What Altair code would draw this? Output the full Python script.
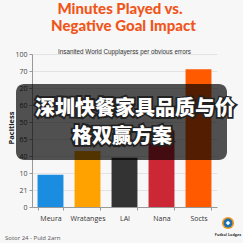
import altair as alt
import pandas as pd
import json

players = ["Meura", "Wratanges", "LAI", "Nana", "Socts"]
values = [19, 33, 29, 45, 81]
colors = ["#1a8de0", "#ffa200", "#333333", "#cc2734", "#ff5a00"]
tick_positions = [0, 10, 20, 30, 40, 50, 60, 70, 80, 90]
tick_labels = ["0", "21", "10", "40", "65", "50", "60", "20", "70", "100"]

title_lines = ["Minutes Played vs.", "Negative Goal Impact"]
subtitle = "Insanited World Cupplayerss per obvious errors"
y_title = "Pacitless"
footer = "Sotor 24 - Puld 2arn"
overlay_lines = ["深圳快餐家具品质与价", "格双赢方案"]
logo_text = "Futbol Lodges"

W, H = 185, 153
PL, PT = 32, 54

df = pd.DataFrame({"player": players, "value": values})
one = pd.DataFrame({"k": [0]})

label_expr = json.dumps(tick_labels) + "[round(datum.value/10)]"

bars = alt.Chart(df).mark_bar().encode(
    x=alt.X("player:N", sort=players, title=None,
            scale=alt.Scale(paddingInner=0.3, paddingOuter=0.15),
            axis=alt.Axis(labelAngle=0, labelFontSize=7, labelColor="#333",
                          labelFont="Open Sans", domainColor="#999", tickColor="#999",
                          tickBand="extent", tickSize=3, labelPadding=4)),
    y=alt.Y("value:Q", title=None,
            scale=alt.Scale(domain=[0, 90], nice=False),
            axis=alt.Axis(values=tick_positions, labelExpr=label_expr,
                          labelFontSize=7, labelColor="#444", labelFont="Open Sans",
                          gridColor="#e3e3e3", domainColor="#999", tickColor="#999",
                          tickSize=3, labelPadding=2)),
    color=alt.Color("player:N", scale=alt.Scale(domain=players, range=colors), legend=None),
)

def txt(text, x, y, size, color="#333", weight="normal", font="Open Sans", align="center", angle=0, **kw):
    return alt.Chart(one).mark_text(text=text, fontSize=size, color=color, fontWeight=weight,
                                    font=font, align=align, baseline="middle", angle=angle, **kw).encode(
        x=alt.value(x - PL), y=alt.value(y - PT))

layers = [bars]
layers.append(txt(title_lines[0], 120, 9, 15, color="#f0561c", weight=900, font="Lato"))
layers.append(txt(title_lines[1], 123.5, 25.5, 15, color="#f0561c", weight=900, font="Lato"))
layers.append(txt(subtitle, 124.5, 51.5, 6.3, color="#333", font="Liberation Sans"))
layers.append(txt(y_title, 12, 128, 7.5, color="#222", weight="bold", angle=270))
layers.append(txt(footer, 5, 238, 6, color="#555", align="left"))

# logo
for size, col in [(150, "#f39a1e"), (80, "#1a6fb5"), (20, "#ffffff")]:
    layers.append(alt.Chart(one).mark_point(filled=True, size=size, color=col, opacity=1,
                                            shape="circle" if size != 20 else "diamond").encode(
        x=alt.value(228 - PL), y=alt.value(223 - PT)))
layers.append(txt(logo_text, 228, 235, 3.8, color="#333", weight="bold"))

# overlay box
layers.append(alt.Chart(one).mark_rect(color="#000000", opacity=0.68, cornerRadius=8).encode(
    x=alt.value(16 - PL), x2=alt.value(227 - PL), y=alt.value(84 - PT), y2=alt.value(160 - PT)))
for line, x, y in [(overlay_lines[0], 35, 108.5), (overlay_lines[1], 72, 137)]:
    layers.append(txt(line, x, y, 20, color="#222", weight="bold", font="Noto Sans CJK SC",
                      align="left", stroke="#222", strokeWidth=4))
    layers.append(txt(line, x, y, 20, color="#ffffff", weight=900, font="Noto Sans CJK SC",
                      align="left"))

chart = alt.layer(*layers).properties(
    width=W, height=H, background="#f7f7f7",
    autosize=alt.AutoSizeParams(type="none"),
    padding={"left": PL, "top": PT, "right": 243 - PL - W, "bottom": 243 - PT - H},
).configure_view(stroke=None)

chart.save("out.html", embed_options={"renderer": "svg", "actions": False})
